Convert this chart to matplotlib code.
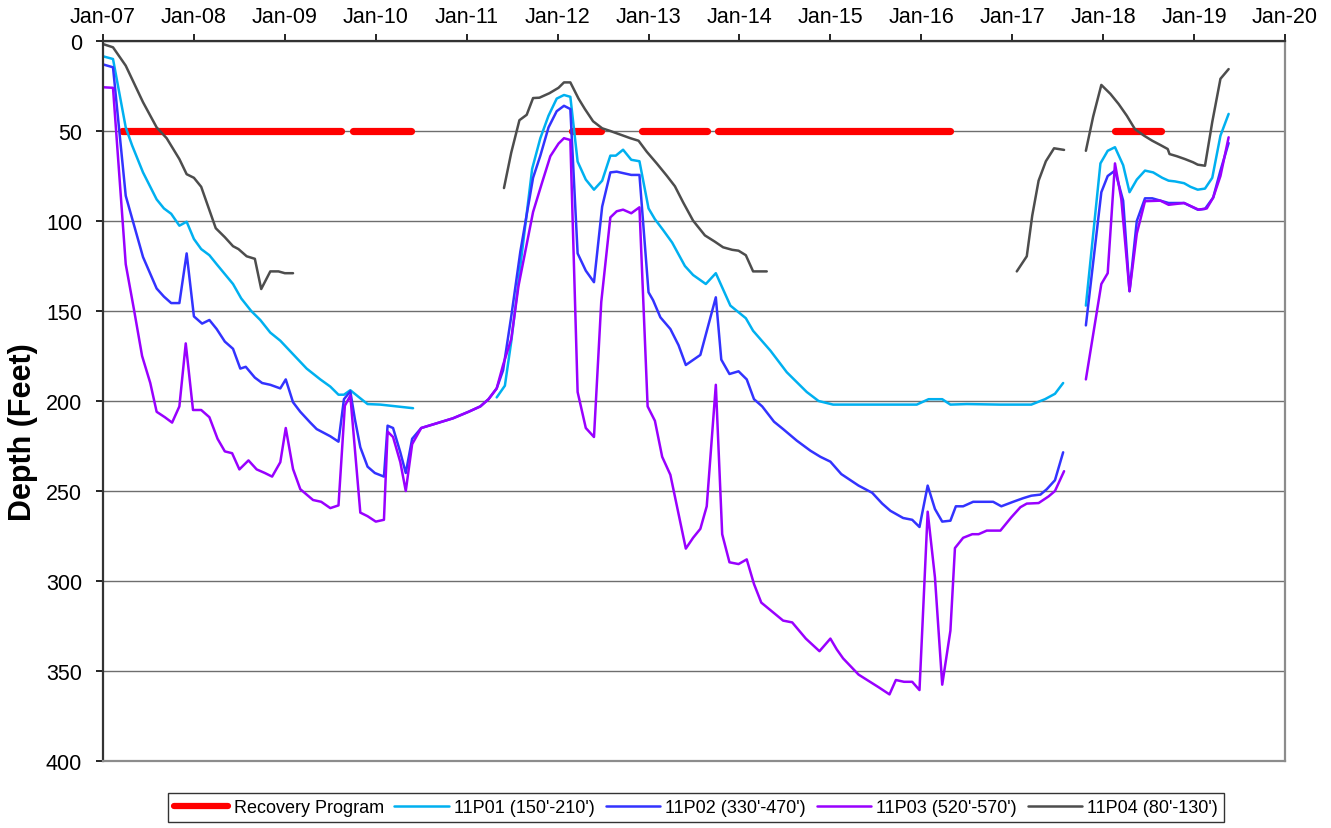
import numpy as np
import matplotlib

matplotlib.use("Agg")
import matplotlib.pyplot as plt

nan = np.nan

# decimal years / depth below ground (feet); nan marks a gap in the record
recovery_years = [2007.21, 2009.62, nan, 2009.75, 2010.39, nan, 2012.16, 2012.48, nan,
                  2012.93, 2013.64, nan, 2013.76, 2016.32, nan, 2018.13, 2018.64]
recovery_depth = [50, 50, nan, 50, 50, nan, 50, 50, nan, 50, 50, nan, 50, 50, nan, 50, 50]

p01_years = [2007.00, 2007.11, 2007.25, 2007.32, 2007.44, 2007.59, 2007.67, 2007.75, 2007.84,
             2007.92, 2008.00, 2008.08, 2008.17, 2008.25, 2008.43, 2008.52, 2008.63, 2008.73,
             2008.84, 2008.95, 2009.09, 2009.24, 2009.39, 2009.50, 2009.59, 2009.65, 2009.72,
             2009.83, 2009.91, 2010.05, 2010.23, 2010.41, nan,
             2011.33, 2011.42, 2011.49, 2011.59, 2011.72, 2011.81, 2011.90, 2011.99, 2012.07,
             2012.14, 2012.22, 2012.31, 2012.40, 2012.49, 2012.58, 2012.64, 2012.72, 2012.81,
             2012.90, 2013.00, 2013.07, 2013.16, 2013.26, 2013.40, 2013.49, 2013.63, 2013.74,
             2013.90, 2014.07, 2014.15, 2014.34, 2014.52, 2014.74, 2014.87, 2015.03, 2015.40,
             2015.95, 2016.08, 2016.23, 2016.32, 2016.50, 2016.87, 2017.21, 2017.36, 2017.47,
             2017.56, nan,
             2017.81, 2017.97, 2018.05, 2018.13, 2018.22, 2018.29, 2018.37, 2018.46, 2018.55,
             2018.65, 2018.72, 2018.79, 2018.89, 2018.96, 2019.04, 2019.12, 2019.20, 2019.29,
             2019.38]
p01_depth = [8.5, 10, 48, 58, 73, 88, 93, 96, 102.6,
             100.4, 110, 115.6, 119, 124, 135, 143, 150, 155,
             162, 166.5, 174, 182, 188, 192, 196.5, 196.5, 194,
             198.5, 201.7, 202, 203, 204, nan,
             198, 191.5, 167, 125, 71, 54, 41.5, 32, 30,
             31, 67, 77, 82.6, 77.6, 63.7, 63.7, 60.4, 66,
             66.8, 93, 99, 105, 112, 125, 130, 135, 129,
             147, 154, 161, 172, 184, 195, 200, 202, 202,
             202, 199, 199, 202, 201.7, 202, 202, 199, 196,
             190, nan,
             147, 68, 61, 59, 69, 84, 77, 72, 73,
             76, 77.6, 78, 79, 81, 82.6, 82, 76, 52.6,
             40.5]

p02_years = [2007.00, 2007.11, 2007.25, 2007.44, 2007.59, 2007.67, 2007.75, 2007.84, 2007.92,
             2008.00, 2008.09, 2008.17, 2008.25, 2008.34, 2008.43, 2008.51, 2008.57, 2008.67,
             2008.75, 2008.84, 2008.95, 2009.01, 2009.09, 2009.17, 2009.28, 2009.35, 2009.50,
             2009.59, 2009.65, 2009.72, 2009.77, 2009.83, 2009.91, 2009.99, 2010.09, 2010.13,
             2010.19, 2010.27, 2010.33, 2010.40, 2010.50, 2010.67, 2010.85, 2011.02, 2011.15,
             2011.24, 2011.33, 2011.40, 2011.49, 2011.59, 2011.73, 2011.81, 2011.90, 2011.99,
             2012.07, 2012.14, 2012.22, 2012.31, 2012.40, 2012.49, 2012.58, 2012.65, 2012.81,
             2012.90, 2013.00, 2013.05, 2013.13, 2013.24, 2013.33, 2013.41, 2013.57, 2013.74,
             2013.80, 2013.89, 2013.99, 2014.08, 2014.16, 2014.25, 2014.38, 2014.48, 2014.63,
             2014.78, 2014.89, 2015.00, 2015.12, 2015.31, 2015.46, 2015.57, 2015.66, 2015.73,
             2015.80, 2015.90, 2015.98, 2016.07, 2016.15, 2016.23, 2016.32, 2016.38, 2016.46,
             2016.57, 2016.79, 2016.88, 2017.01, 2017.12, 2017.21, 2017.31, 2017.38, 2017.47,
             2017.56, nan,
             2017.81, 2017.98, 2018.05, 2018.13, 2018.22, 2018.29, 2018.37, 2018.46, 2018.54,
             2018.72, 2018.89, 2019.04, 2019.12, 2019.21, 2019.29, 2019.38]
p02_depth = [13, 14.6, 86, 120, 137.5, 142, 145.6, 145.6, 118,
             153, 157, 155, 160, 167, 171, 182, 181, 187,
             190, 191, 193, 188, 200.7, 206, 212, 215.6, 219.6,
             222.6, 199, 194.6, 210, 225.7, 236.5, 240, 242, 213.7,
             215, 228.5, 240, 221, 215, 212.4, 209.6, 206, 203,
             199, 193, 183, 153, 117, 76, 63.7, 48, 39,
             36, 37.8, 118, 127.6, 134, 92, 73, 72.6, 74.4,
             74.4, 139.6, 144, 153.5, 160, 169, 180, 174.4, 142.4,
             177, 185, 183.5, 188, 199, 203, 211.5, 215.6, 222,
             227.6, 231, 233.7, 240.6, 247, 251, 257, 261, 263,
             265, 266, 270, 247, 260, 267, 266.5, 258.5, 258.5,
             256, 256, 258.5, 256, 254, 252.6, 252, 249, 244,
             228.5, nan,
             158, 84, 75, 72, 88.7, 139, 100, 87.4, 87.4,
             90, 90, 93.7, 93.3, 87, 72, 56.7]

p03_years = [2007.00, 2007.11, 2007.25, 2007.34, 2007.43, 2007.52, 2007.59, 2007.68, 2007.76,
             2007.84, 2007.91, 2007.99, 2008.08, 2008.17, 2008.26, 2008.34, 2008.42, 2008.50,
             2008.60, 2008.69, 2008.78, 2008.86, 2008.95, 2009.01, 2009.09, 2009.17, 2009.31,
             2009.40, 2009.50, 2009.59, 2009.66, 2009.72, 2009.83, 2009.91, 2010.00, 2010.09,
             2010.13, 2010.19, 2010.27, 2010.33, 2010.40, 2010.50, 2010.67, 2010.85, 2011.02,
             2011.15, 2011.24, 2011.33, 2011.40, 2011.49, 2011.57, 2011.73, 2011.83, 2011.92,
             2012.01, 2012.07, 2012.14, 2012.22, 2012.31, 2012.40, 2012.48, 2012.58, 2012.65,
             2012.72, 2012.81, 2012.90, 2012.99, 2013.07, 2013.15, 2013.24, 2013.41, 2013.49,
             2013.57, 2013.64, 2013.74, 2013.81, 2013.89, 2013.99, 2014.08, 2014.16, 2014.24,
             2014.48, 2014.58, 2014.73, 2014.88, 2015.00, 2015.07, 2015.14, 2015.31, 2015.53,
             2015.65, 2015.72, 2015.81, 2015.90, 2015.98, 2016.07, 2016.15, 2016.23, 2016.32,
             2016.37, 2016.46, 2016.56, 2016.63, 2016.72, 2016.87, 2016.99, 2017.09, 2017.16,
             2017.29, 2017.40, 2017.47, 2017.57, nan,
             2017.81, 2017.98, 2018.05, 2018.13, 2018.20, 2018.29, 2018.37, 2018.46, 2018.63,
             2018.72, 2018.89, 2019.05, 2019.14, 2019.21, 2019.29, 2019.38]
p03_depth = [25.7, 26, 124, 149, 175, 190, 206, 209, 212,
             203, 168, 205, 205, 209, 221, 228, 229, 238,
             233, 238, 240, 242, 234, 215, 237.8, 249, 255,
             256, 259.5, 258, 202.6, 197, 262, 264, 267, 266,
             217, 220, 234, 250, 224, 215, 212.4, 209.6, 206,
             203, 199, 193, 180, 165.6, 136, 95, 78.5, 64,
             57, 54, 55, 195, 215, 220, 145, 98, 94.6,
             93.7, 95.7, 92.4, 203, 211, 231, 241, 282, 276,
             271, 258.5, 191, 274, 289.6, 290.6, 288, 301.7, 312,
             322, 323, 332, 339, 332, 338, 343, 352, 359,
             363, 355, 356, 356, 360.6, 261.5, 298, 357.6, 327.6,
             281.7, 276, 274, 274, 272, 272, 264.6, 259, 257,
             256.7, 253, 250, 239, nan,
             188, 135, 129, 68, 88, 139, 107, 89, 88.7,
             91, 90, 93.7, 93, 87, 75, 53.5]

p04_years = [2007.00, 2007.11, 2007.25, 2007.44, 2007.59, 2007.70, 2007.84, 2007.92, 2008.00,
             2008.08, 2008.24, 2008.34, 2008.43, 2008.49, 2008.58, 2008.67, 2008.74, 2008.84,
             2008.93, 2009.00, 2009.09, nan,
             2011.41, 2011.49, 2011.58, 2011.66, 2011.73, 2011.80, 2011.91, 2012.01, 2012.07,
             2012.14, 2012.23, 2012.30, 2012.39, 2012.49, 2012.58, 2012.69, 2012.80, 2012.89,
             2012.98, 2013.09, 2013.20, 2013.29, 2013.38, 2013.49, 2013.62, 2013.73, 2013.82,
             2013.92, 2013.99, 2014.07, 2014.15, 2014.30, nan,
             2017.05, 2017.16, 2017.22, 2017.29, 2017.37, 2017.46, 2017.57, nan,
             2017.81, 2017.89, 2017.98, 2018.08, 2018.17, 2018.26, 2018.35, 2018.45, 2018.54,
             2018.63, 2018.71, 2018.73, 2018.81, 2018.90, 2018.99, 2019.04, 2019.12, 2019.20,
             2019.29, 2019.38]
p04_depth = [1.7, 3.5, 13.7, 34, 48, 54, 65.6, 74, 76,
             81, 104, 109, 114, 115.6, 119.6, 121, 137.8, 128,
             128, 129, 129, nan,
             81.7, 62, 44, 41, 31.7, 31.5, 29, 26, 23,
             23, 32, 37.8, 44.6, 48.5, 50, 52, 54, 55.4,
             61.5, 68, 74.8, 80.7, 89.6, 99.8, 108, 111.5, 114.6,
             116, 116.5, 119, 128, 128, nan,
             128, 119.6, 97, 77.6, 66.8, 59.6, 60.5, nan,
             61, 42, 24.4, 29.4, 35, 41.5, 49, 52.6, 55.4,
             57.8, 60, 62.8, 64, 65.6, 67.4, 68.7, 69.3, 45,
             21, 15.6]

year_ticks = list(range(2007, 2021))
depth_ticks = list(range(0, 401, 50))

plt.rcParams["font.family"] = ["Liberation Sans", "DejaVu Sans"]

fig = plt.figure(figsize=(13.31, 8.29), dpi=100)
ax = fig.add_axes([103 / 1331, 1 - 762 / 829, 1182 / 1331, 720 / 829])

series = [
    (recovery_years, recovery_depth, "Recovery Program", "#ff0000", 5.2),
    (p01_years, p01_depth, "11P01 (150'-210')", "#00b0f0", 1.8),
    (p02_years, p02_depth, "11P02 (330'-470')", "#3333ff", 1.8),
    (p03_years, p03_depth, "11P03 (520'-570')", "#9900ff", 1.8),
    (p04_years, p04_depth, "11P04 (80'-130')", "#4d4d4d", 1.8),
]
for years, depth, label, color, lw in series:
    ax.plot(np.array(years, dtype=float), np.array(depth, dtype=float), color=color,
            linewidth=lw, label=label, solid_capstyle="round", solid_joinstyle="round")

ax.set_xlim(2007, 2020)
ax.set_ylim(400, 0)
ax.set_xticks(year_ticks)
ax.set_xticklabels([f"Jan-{y % 100:02d}" for y in year_ticks])
ax.set_yticks(depth_ticks)
ax.xaxis.tick_top()
ax.tick_params(axis="x", direction="out", length=5, width=1.2, pad=5, labelsize=15.5)
ax.tick_params(axis="y", direction="out", length=5, width=1.2, pad=10, labelsize=15.5)
ax.yaxis.grid(True, color="#6e6e6e", linewidth=1)
ax.set_axisbelow(True)

ax.spines["top"].set_color("#333333")
ax.spines["left"].set_color("#333333")
ax.spines["right"].set_color("#8c8c8c")
ax.spines["bottom"].set_color("#8c8c8c")
for side in ("top", "left", "right", "bottom"):
    ax.spines[side].set_linewidth(1.6)

fig.text(23 / 1331, 1 - 432 / 829, "Depth (Feet)", rotation=90, ha="center", va="center",
         fontsize=22, fontweight="bold")

leg = fig.legend(loc="center", bbox_to_anchor=(696 / 1331, 1 - 808.5 / 829), ncol=5,
                 fontsize=13, frameon=True, fancybox=False, edgecolor="black",
                 handlelength=3.0, handletextpad=0.3, columnspacing=0.6,
                 borderpad=0.35, borderaxespad=0)
leg.get_frame().set_linewidth(1)
leg.get_lines()[0].set_linewidth(4.5)

fig.savefig("out.png", dpi=100, facecolor="white")
